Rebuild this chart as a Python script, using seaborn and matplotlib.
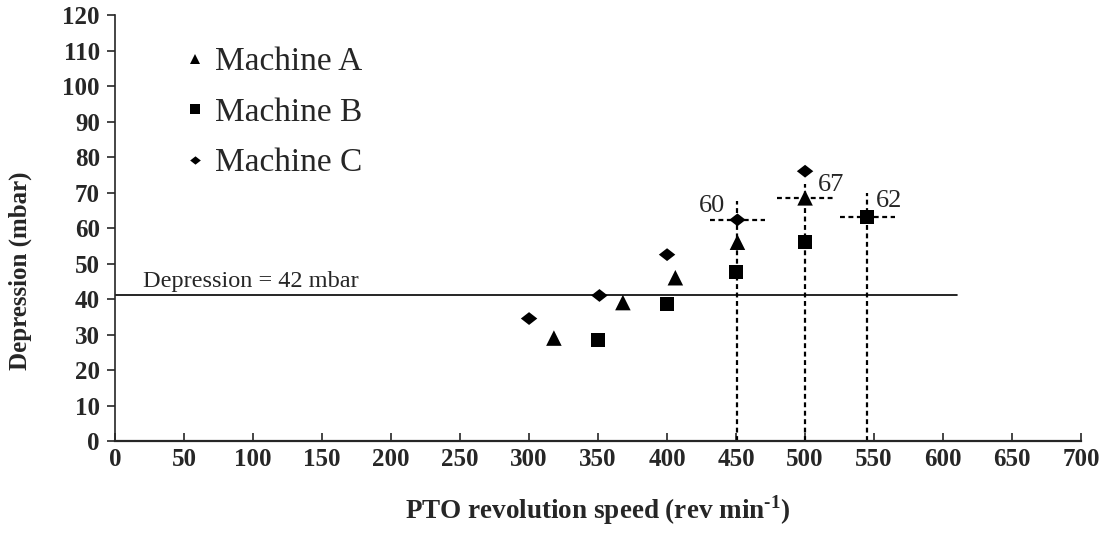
import matplotlib
matplotlib.use("Agg")
import matplotlib.pyplot as plt
import numpy as np
import pandas as pd
import seaborn as sns
from matplotlib.path import Path

# ----------------------------
# Data
# ----------------------------
machine_a_speed = [318, 368, 406, 451, 500]
machine_a_depr = [29, 39, 46, 56, 68.5]

machine_b_speed = [350, 400, 450, 500, 545]
machine_b_depr = [28.5, 38.5, 47.5, 56, 63]

machine_c_speed = [300, 351, 400, 451, 500]
machine_c_depr = [34.5, 41, 52.5, 62.3, 76]

threshold = 41          # drawn level of the "Depression = 42 mbar" line
threshold_end = 610

# operating points marked with dashed crosses
op_speed = [451, 500, 545]
op_depr = [62.3, 68.5, 63]
op_top = [67.5, 72.5, 70]
op_labels = ["60", "67", "62"]

# ----------------------------
# Style
# ----------------------------
sns.set_style("ticks")
plt.rcParams["font.family"] = ["Liberation Serif", "DejaVu Serif"]
plt.rcParams["mathtext.fontset"] = "custom"
plt.rcParams["mathtext.rm"] = "Liberation Serif"
plt.rcParams["mathtext.bf"] = "Liberation Serif:bold"

diamond = Path([(-1, 0), (0, 0.78), (1, 0), (0, -0.78), (-1, 0)],
               [Path.MOVETO, Path.LINETO, Path.LINETO, Path.LINETO, Path.CLOSEPOLY])

df = pd.DataFrame({
    "speed": machine_a_speed + machine_b_speed + machine_c_speed,
    "depression": machine_a_depr + machine_b_depr + machine_c_depr,
    "machine": ["Machine A"] * 5 + ["Machine B"] * 5 + ["Machine C"] * 5,
})

fig = plt.figure(figsize=(11.01, 5.42), dpi=100)
ax = fig.add_axes([0.1045, 0.1863, 0.8774, 0.786])

# threshold line + label
ax.plot([0, threshold_end], [threshold, threshold], color="black", lw=1.2, zorder=1)
ax.text(20, threshold + 1.0, "Depression = 42 mbar", fontsize=17.5, ha="left", va="bottom")

# dashed crosses at operating points
dash = (0, (2.2, 1.6))
for sx, sy, top in zip(op_speed, op_depr, op_top):
    ax.plot([sx, sx], [0, top], color="black", lw=1.6, linestyle=dash, zorder=1)
    ax.plot([sx - 20, sx + 20], [sy, sy], color="black", lw=1.6, linestyle=dash, zorder=1)

ax.text(442, 63.0, op_labels[0], fontsize=19, ha="right", va="bottom")
ax.text(509, 69.0, op_labels[1], fontsize=19, ha="left", va="bottom")
ax.text(551, 64.5, op_labels[2], fontsize=19, ha="left", va="bottom")

sns.scatterplot(
    data=df, x="speed", y="depression", style="machine", size="machine",
    markers={"Machine A": "^", "Machine B": "s", "Machine C": diamond},
    sizes={"Machine A": 125, "Machine B": 100, "Machine C": 140},
    color="black", edgecolor="black", linewidth=0, ax=ax, zorder=3,
    legend=True,
)

leg = ax.legend(loc="upper left", bbox_to_anchor=(0.072, 0.925), frameon=False,
                fontsize=24, markerscale=0.65, handlelength=0.6, handletextpad=0.3,
                labelspacing=0.6, borderaxespad=0, borderpad=0)

ax.set_xlim(0, 700)
ax.set_ylim(0, 120)
ax.set_xticks(np.arange(0, 701, 50))
ax.set_yticks(np.arange(0, 121, 10))
for lab in ax.get_xticklabels() + ax.get_yticklabels():
    lab.set_fontweight("bold")
    lab.set_fontsize(18)

ax.tick_params(axis="x", direction="in", length=6, width=1.2, pad=5)
ax.tick_params(axis="y", direction="out", length=6, width=1.2, pad=5)
ax.spines["left"].set_linewidth(1.2)
ax.spines["bottom"].set_linewidth(1.6)
sns.despine(ax=ax)

ax.set_xlabel("PTO revolution speed (rev min$^{\\mathbf{\u20101}}$)", fontsize=19.5,
              fontweight="bold", labelpad=16)
ax.set_ylabel("Depression (mbar)", fontsize=18, fontweight="bold")
ax.yaxis.set_label_coords(-0.086, 0.40)

fig.savefig("out.png", dpi=100)
